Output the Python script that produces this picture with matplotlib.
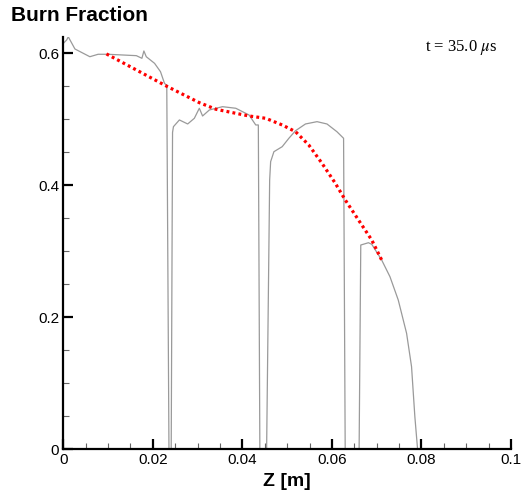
import matplotlib
matplotlib.use("Agg")
import matplotlib.pyplot as plt
from matplotlib.ticker import MultipleLocator, FixedLocator

# Burn fraction profile (gray line)
z_profile = [0.0, 0.00076, 0.00111, 0.0026, 0.00593, 0.00778, 0.00993, 0.01631, 0.01756, 0.018,
             0.01853, 0.02038, 0.02171, 0.0226, 0.02298, 0.02311, 0.0236,
             0.0241, 0.0244, 0.0246, 0.02593, 0.02778, 0.02927, 0.03038, 0.03111, 0.03262,
             0.03556, 0.03853, 0.04149, 0.04298, 0.04356, 0.0439,
             0.04541, 0.04609, 0.04631, 0.04704, 0.04889, 0.05038, 0.05187, 0.05409, 0.05667,
             0.05889, 0.06111, 0.06238, 0.0626, 0.06296,
             0.06607, 0.06644, 0.06815, 0.06889, 0.07111, 0.07296, 0.07481, 0.07667, 0.07778,
             0.07852, 0.07911]
bf_profile = [0.615, 0.6202, 0.625, 0.6065, 0.5948, 0.5985, 0.5985, 0.5964, 0.5924, 0.6035,
              0.5948, 0.5848, 0.5721, 0.5545, 0.552, 0.552, 0.0,
              0.0, 0.48, 0.4888, 0.499, 0.4929, 0.5015, 0.5167, 0.505, 0.5141,
              0.5191, 0.5167, 0.5065, 0.4914, 0.4914, 0.0,
              0.0, 0.408, 0.4358, 0.4509, 0.4585, 0.4712, 0.4827, 0.4929, 0.4964,
              0.4929, 0.4812, 0.4727, 0.4712, 0.0,
              0.0, 0.3095, 0.313, 0.3106, 0.2868, 0.2615, 0.2262, 0.1758, 0.1252,
              0.0494, 0.0015]

# Red dotted trend
z_trend = [0.00964, 0.02298, 0.03038, 0.03409, 0.04149, 0.0452, 0.04889, 0.05187, 0.05482,
           0.05778, 0.06076, 0.06298, 0.06593, 0.06889, 0.07111]
bf_trend = [0.599, 0.5505, 0.5252, 0.5152, 0.505, 0.5015, 0.4914, 0.4812, 0.4611,
            0.4333, 0.403, 0.3777, 0.3474, 0.3171, 0.2868]

x_ticks = [0, 0.02, 0.04, 0.06, 0.08, 0.1]
x_ticklabels = ["0", "0.02", "0.04", "0.06", "0.08", "0.1"]
y_ticks = [0, 0.2, 0.4, 0.6]
y_ticklabels = ["0", "0.2", "0.4", "0.6"]

fig = plt.figure(figsize=(5.31, 4.95), dpi=100)
ax = fig.add_axes([0.1192, 0.0923, 0.9624 - 0.1192, 0.8334])

ax.plot(z_profile, bf_profile, color="#9a9a9a", lw=0.9, zorder=2)
ax.plot(z_trend, bf_trend, color="#ff0000", lw=2.3, linestyle=(0, (0.9, 1.0)),
        dash_capstyle="butt", zorder=3)

ax.set_xlim(0, 0.1)
ax.set_ylim(0, 0.625)
for s in ["top", "right"]:
    ax.spines[s].set_visible(False)
for s in ["left", "bottom"]:
    ax.spines[s].set_linewidth(1.6)
    ax.spines[s].set_color("black")

ax.xaxis.set_major_locator(FixedLocator(x_ticks))
ax.set_xticklabels(x_ticklabels)
ax.yaxis.set_major_locator(FixedLocator(y_ticks))
ax.set_yticklabels(y_ticklabels)
ax.xaxis.set_minor_locator(MultipleLocator(0.005))
ax.yaxis.set_minor_locator(MultipleLocator(0.05))

ax.tick_params(which="major", direction="in", length=7, width=1.6, color="black",
               labelsize=11, pad=3)
ax.tick_params(which="minor", direction="in", length=4, width=0.8, color="#666666")
for lab in ax.get_xticklabels() + ax.get_yticklabels():
    lab.set_family("Liberation Sans")

ax.set_xlabel("Z [m]", fontsize=14, fontweight="bold", family="Liberation Sans", labelpad=4)

fig.text(0.02, 0.968, "Burn Fraction", fontsize=15, fontweight="bold",
         family="Liberation Sans", ha="left", va="center")

plt.rcParams["mathtext.fontset"] = "stix"
fig.text(0.937, 0.905, r"t = 35.0 $\mu$s", fontsize=12, family="Liberation Serif",
         ha="right", va="center")

fig.savefig("out.png", dpi=100)
